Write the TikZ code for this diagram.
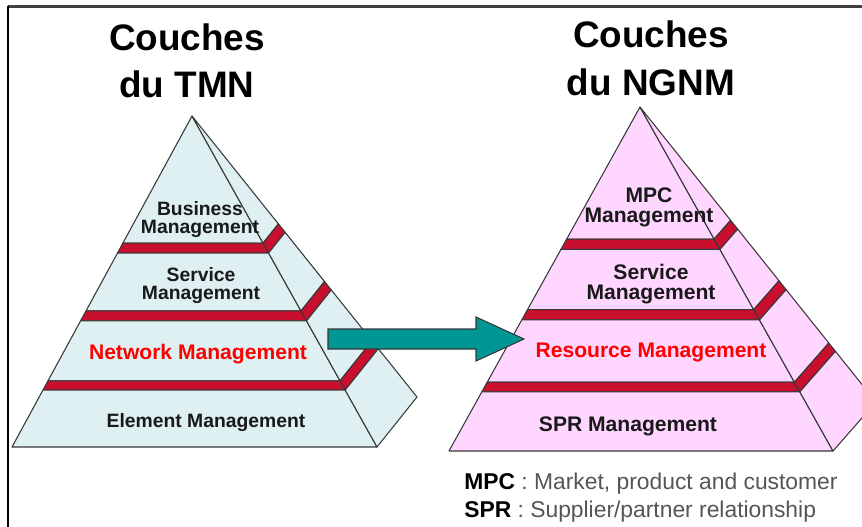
\documentclass[tikz,border=0pt]{standalone}
\usepackage{fontspec}
\setmainfont{Liberation Sans}
\usetikzlibrary{arrows.meta, positioning, calc}

\definecolor{tmnface}{RGB}{222,240,241}
\definecolor{ngnmface}{RGB}{255,214,255}
\definecolor{slabred}{RGB}{200,16,46}
\definecolor{arrowteal}{RGB}{0,150,148}
\definecolor{edgegray}{RGB}{55,55,55}
\definecolor{legendgray}{RGB}{85,85,85}

\begin{document}
\begin{tikzpicture}[x=0.02cm, y=-0.02cm]
    % --- Style Definitions ---
    \tikzset{
        frame top/.style={
            draw=black!75,
            line width=1.4pt
        },
        frame left/.style={
            draw=black,
            line width=1.2pt
        },
        layer edge/.style={
            draw=edgegray,
            line width=0.6pt,
            line join=round
        },
        title text/.style={
            font=\fontsize{21}{27.2}\selectfont\bfseries,
            align=center,
            anchor=base,
            inner sep=0pt
        },
        layer text/.style={
            font=\fontsize{11}{10.2}\selectfont\bfseries,
            text=black!90,
            align=center,
            anchor=base,
            inner sep=0pt
        },
        big layer text/.style={
            layer text,
            font=\fontsize{12}{11}\selectfont\bfseries
        },
        key layer text/.style={
            big layer text,
            text=red
        },
        legend text/.style={
            font=\fontsize{13}{15.9}\selectfont,
            align=left,
            anchor=base west,
            inner sep=0pt
        },
        move arrow/.style={
            fill=arrowteal,
            draw=edgegray,
            line width=0.6pt,
            line join=miter
        }
    }

    % Picture size (pixels of the reference)
    \useasboundingbox (0,0) rectangle (862,527);

    % --- 1. Frame (top and left only) ---
    \draw[frame top] (8,6.5) -- (862,6.5);
    \draw[frame left] (8,6) -- (8,527);

    % --- 2. Pyramid corners: apex, front left, front right, back right ---
    \coordinate (tmn-apex) at (192,116);
    \coordinate (tmn-left) at (12,447);
    \coordinate (tmn-right) at (377,447);
    \coordinate (tmn-back) at (417,397);

    \coordinate (ngnm-apex) at (640,107);
    \coordinate (ngnm-left) at (449,451);
    \coordinate (ngnm-right) at (833,451);
    \coordinate (ngnm-back) at (876,402);

    % --- 3. Slices of the TMN pyramid (layers and red slabs) ---
    \foreach \ta/\tb/\col in {0/0.384/tmnface, 0.384/0.414/slabred,
                              0.414/0.589/tmnface, 0.589/0.619/slabred,
                              0.619/0.800/tmnface, 0.800/0.828/slabred,
                              0.828/1/tmnface}{
        % front face
        \draw[layer edge, fill=\col]
            ($(tmn-apex)!\ta!(tmn-left)$) -- ($(tmn-apex)!\ta!(tmn-right)$)
            -- ($(tmn-apex)!\tb!(tmn-right)$) -- ($(tmn-apex)!\tb!(tmn-left)$) -- cycle;
        % side face
        \draw[layer edge, fill=\col]
            ($(tmn-apex)!\ta!(tmn-right)$) -- ($(tmn-apex)!\ta!(tmn-back)$)
            -- ($(tmn-apex)!\tb!(tmn-back)$) -- ($(tmn-apex)!\tb!(tmn-right)$) -- cycle;
    }

    % --- 4. Slices of the NGNM pyramid ---
    \foreach \ta/\tb/\col in {0/0.384/ngnmface, 0.384/0.414/slabred,
                              0.414/0.589/ngnmface, 0.589/0.619/slabred,
                              0.619/0.800/ngnmface, 0.800/0.828/slabred,
                              0.828/1/ngnmface}{
        \draw[layer edge, fill=\col]
            ($(ngnm-apex)!\ta!(ngnm-left)$) -- ($(ngnm-apex)!\ta!(ngnm-right)$)
            -- ($(ngnm-apex)!\tb!(ngnm-right)$) -- ($(ngnm-apex)!\tb!(ngnm-left)$) -- cycle;
        \draw[layer edge, fill=\col]
            ($(ngnm-apex)!\ta!(ngnm-right)$) -- ($(ngnm-apex)!\ta!(ngnm-back)$)
            -- ($(ngnm-apex)!\tb!(ngnm-back)$) -- ($(ngnm-apex)!\tb!(ngnm-right)$) -- cycle;
    }

    % --- 5. Block arrow from one pyramid to the other ---
    \def\shafthalf{10}
    \def\headhalf{22}
    \def\headlen{48}
    \coordinate (arrow-start) at (328,339);
    \coordinate (arrow-tip) at (524,339);
    \draw[move arrow]
        ($(arrow-start)+(0,-\shafthalf)$) -- ($(arrow-tip)+(-\headlen,-\shafthalf)$)
        -- ($(arrow-tip)+(-\headlen,-\headhalf)$) -- (arrow-tip)
        -- ($(arrow-tip)+(-\headlen,\headhalf)$) -- ($(arrow-tip)+(-\headlen,\shafthalf)$)
        -- ($(arrow-start)+(0,\shafthalf)$) -- cycle;

    % --- 6. Titles (anchored at the baseline of the last line) ---
    \node[title text] (tmn-title) at (187,98) {Couches\\du TMN};
    \node[title text] (ngnm-title) at (651,95) {Couches\\du NGNM};

    % --- 7. Layer labels ---
    \node[layer text] (business) at (200,233) {Business\\Management};
    \node[layer text] (tmn-service) at (201,299) {Service\\Management};
    \node[key layer text] (network) at (198,359) {Network Management};
    \node[layer text] (element) at (206,427) {Element Management};

    \node[big layer text] (mpc) at (649,222) {MPC\\Management};
    \node[big layer text] (ngnm-service) at (651,299) {Service\\Management};
    \node[key layer text] (resource) at (651,357) {Resource Management};
    \node[big layer text] (spr) at (628,431) {SPR Management};

    % --- 8. Legend ---
    \node[legend text] (legend) at (464,517)
        {\textbf{MPC}~\textcolor{legendgray}{: Market, product and customer}\\
         \textbf{SPR}~\textcolor{legendgray}{: Supplier/partner relationship}};

\end{tikzpicture}
\end{document}
